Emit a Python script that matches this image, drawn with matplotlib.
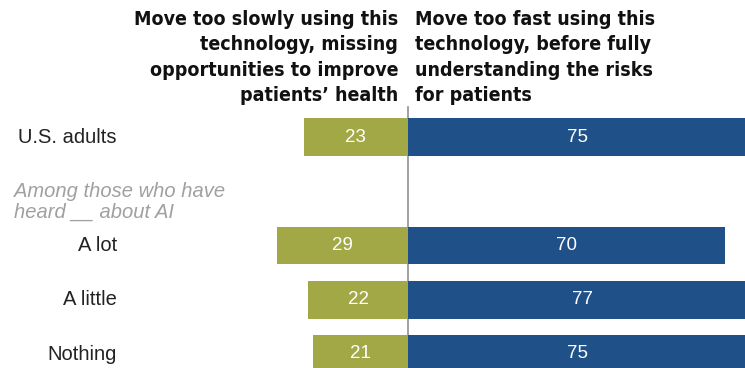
import numpy as np
import matplotlib
matplotlib.use('Agg')
import matplotlib.pyplot as plt

# data
groups = ['U.S. adults', '', 'A lot', 'A little', 'Nothing']
too_slow = [23, None, 29, 22, 21]
too_fast = [75, None, 70, 77, 75]

header_left = ('Move too slowly using this\ntechnology, missing\n'
               'opportunities to improve\npatients\u2019 health')
header_right = ('Move too fast using this\ntechnology, before fully\n'
                'understanding the risks\nfor patients')
subhead = 'Among those who have\nheard __ about AI'

olive = '#a2a846'
blue = '#1f5088'

W, H = 745, 368
fig = plt.figure(figsize=(W / 100, H / 100), dpi=100)
ax = fig.add_axes([0, 0, 1, 1])

# pixel layout: centre line at x=408, 4.53 px per point
cx, ppu = 408, 4.53
ax.set_xlim(-cx / ppu, (W - cx) / ppu)
row0, step = 137, 54.25
ax.set_ylim((H - row0) / step, -row0 / step)
ax.axis('off')

ypos = np.arange(len(groups))
for y, s, f in zip(ypos, too_slow, too_fast):
    if s is None:
        continue
    ax.barh(y, -s, height=0.7, color=olive, edgecolor='none')
    ax.barh(y, f, height=0.7, color=blue, edgecolor='none')
    ax.text(-s / 2, y, str(s), color='white', ha='center', va='center',
            fontsize=13.5, family='Liberation Sans')
    ax.text(f / 2, y, str(f), color='white', ha='center', va='center',
            fontsize=13.5, family='Liberation Sans')

ax.plot([0, 0], [-0.56, ypos[-1] + 1], color='#909090', lw=1.2, zorder=0)

# category labels
lab_x = (117 - cx) / ppu
ax.text((18 - cx) / ppu, ypos[0], groups[0], ha='left', va='center',
        fontsize=14.5, family='Liberation Sans', color='#222222')
for y, g in zip(ypos[2:], groups[2:]):
    ax.text(lab_x, y, g, ha='right', va='center', fontsize=14.5,
            family='Liberation Sans', color='#222222')
ax.text((14 - cx) / ppu, 1.2, subhead, ha='left', va='center',
        fontsize=14.5, family='Liberation Sans', style='italic',
        color='#a0a0a0', linespacing=1.15)

# column headers
hfont = dict(fontsize=14, family='DejaVu Sans', fontstretch='condensed',
             weight='bold', linespacing=1.42, color='#111111')
fig.text(398 / W, 1 - 10 / H, header_left, ha='right', va='top', **hfont)
fig.text(415 / W, 1 - 10 / H, header_right, ha='left', va='top', **hfont)

fig.savefig('out.png', dpi=100)
